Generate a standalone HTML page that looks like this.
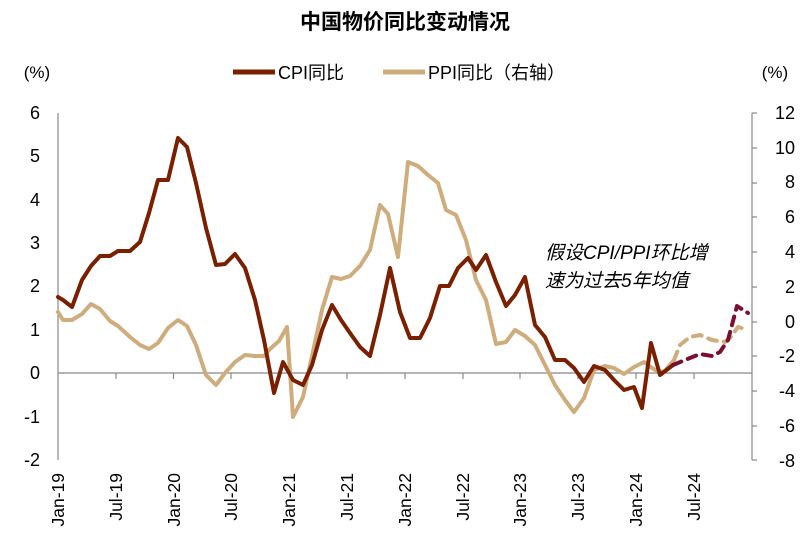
<!DOCTYPE html>
<html><head><meta charset="utf-8"><style>
body{margin:0;background:#fff}
svg text{font-family:"Liberation Sans","Noto Sans CJK SC",sans-serif;fill:#000}
</style></head><body>
<svg width="810" height="547" viewBox="0 0 810 547" xmlns="http://www.w3.org/2000/svg">
<text x="405" y="29" font-size="21" font-weight="bold" text-anchor="middle">中国物价同比变动情况</text>
<text x="37" y="78" font-size="17" text-anchor="middle">(%)</text>
<text x="775" y="78" font-size="17" text-anchor="middle">(%)</text>
<line x1="233" y1="72" x2="275" y2="72" stroke="#7a2000" stroke-width="5"/>
<text x="278" y="79" font-size="18">CPI同比</text>
<line x1="383" y1="72" x2="425" y2="72" stroke="#cfac7c" stroke-width="5"/>
<text x="428" y="79" font-size="18">PPI同比（右轴）</text>
<g font-size="18" text-anchor="end">
<text x="40" y="119">6</text><text x="40" y="162">5</text><text x="40" y="206">4</text><text x="40" y="249">3</text><text x="40" y="292">2</text><text x="40" y="336">1</text><text x="40" y="379">0</text><text x="40" y="423">-1</text><text x="40" y="466">-2</text>
</g>
<g font-size="18" text-anchor="end">
<text x="795" y="119">12</text><text x="795" y="154">10</text><text x="795" y="188">8</text><text x="795" y="223">6</text><text x="795" y="258">4</text><text x="795" y="293">2</text><text x="795" y="328">0</text><text x="795" y="362">-2</text><text x="795" y="397">-4</text><text x="795" y="432">-6</text><text x="795" y="467">-8</text>
</g>
<line x1="58" y1="113" x2="58" y2="460" stroke="#888" stroke-width="1.2"/>
<line x1="752" y1="113" x2="752" y2="460" stroke="#888" stroke-width="1.2"/>
<g stroke="#888" stroke-width="1.2">
<line x1="752" y1="113" x2="757" y2="113"/><line x1="752" y1="148" x2="757" y2="148"/><line x1="752" y1="183" x2="757" y2="183"/><line x1="752" y1="217" x2="757" y2="217"/><line x1="752" y1="252" x2="757" y2="252"/><line x1="752" y1="287" x2="757" y2="287"/><line x1="752" y1="322" x2="757" y2="322"/><line x1="752" y1="356" x2="757" y2="356"/><line x1="752" y1="391" x2="757" y2="391"/><line x1="752" y1="426" x2="757" y2="426"/><line x1="752" y1="460" x2="757" y2="460"/>
<line x1="58" y1="373" x2="752" y2="373"/>
<line x1="116" y1="373" x2="116" y2="379"/><line x1="173.5" y1="373" x2="173.5" y2="379"/><line x1="231" y1="373" x2="231" y2="379"/><line x1="289" y1="373" x2="289" y2="379"/><line x1="347" y1="373" x2="347" y2="379"/><line x1="405" y1="373" x2="405" y2="379"/><line x1="463" y1="373" x2="463" y2="379"/><line x1="520" y1="373" x2="520" y2="379"/><line x1="578" y1="373" x2="578" y2="379"/><line x1="636" y1="373" x2="636" y2="379"/><line x1="694" y1="373" x2="694" y2="379"/>
</g>
<g font-size="17.5" text-anchor="end">
<text transform="translate(64,473) rotate(-90)">Jan-19</text>
<text transform="translate(122,473) rotate(-90)">Jul-19</text>
<text transform="translate(180,473) rotate(-90)">Jan-20</text>
<text transform="translate(237,473) rotate(-90)">Jul-20</text>
<text transform="translate(295,473) rotate(-90)">Jan-21</text>
<text transform="translate(353,473) rotate(-90)">Jul-21</text>
<text transform="translate(411,473) rotate(-90)">Jan-22</text>
<text transform="translate(469,473) rotate(-90)">Jul-22</text>
<text transform="translate(526,473) rotate(-90)">Jan-23</text>
<text transform="translate(584,473) rotate(-90)">Jul-23</text>
<text transform="translate(642,473) rotate(-90)">Jan-24</text>
<text transform="translate(700,473) rotate(-90)">Jul-24</text>
</g>
<g fill="none" stroke-linejoin="round" stroke-linecap="round" stroke-width="4">
<polyline stroke="#cfac7c" points="58,312 63,320 72,320 82,314 91,304 100,309 110,321 118,326 130,337 140,345 149,349 158,343 168,328 178,320 187,326 196,345 206,375 216,385 225,373 235,362 245,355 255,356 264,356 270,349 279,341 287,327 293,417 303,397 312,356 322,310 332,277 341,279 350,276 360,266 370,250 380,205 388,214 398,257 408,162 418,166 428,175 438,183 446,210 456,215 466,240 476,280 486,300 496,344 506,342 515,330 525,336 535,345 545,365 555,385 565,400 574,412 584,398 594,370 605,366 614,368 624,374 634,367 644,362 655,370 664,372 674,360"/>
<polyline stroke="#7a2000" points="58,297 63,300 72,307 82,280 91,266 100,256 110,256 118,251 130,251 140,242 149,213 158,180 168,180 178,138 187,147 196,183 206,228 216,265 225,264 235,254 245,268 255,300 264,340 274,393 283,362 293,380 303,385 312,365 322,330 332,305 341,320 350,333 360,347 370,356 380,315 390,268 400,312 410,338 420,338 430,318 440,286 449,286 458,268 468,258 476,270 486,255 496,282 506,306 515,295 525,277 535,325 545,337 555,360 565,360 574,368 584,382 594,366 605,370 614,380 624,390 634,387 642,408 651,343 660,375 673,365"/>
<polyline stroke="#cfac7c" stroke-dasharray="9,7" points="674,360 680,345 690,337 700,335 712,340 725,342 730,338 738,327 748,330"/>
<polyline stroke="#7a1030" stroke-dasharray="9,7" points="673,365 685,360 700,354 712,356 720,352 728,340 737,306 748,313"/>
</g>
<g font-size="19" font-style="italic">
<text x="545" y="259">假设CPI/PPI环比增</text>
<text x="545" y="287">速为过去5年均值</text>
</g>
</svg>
</body></html>
